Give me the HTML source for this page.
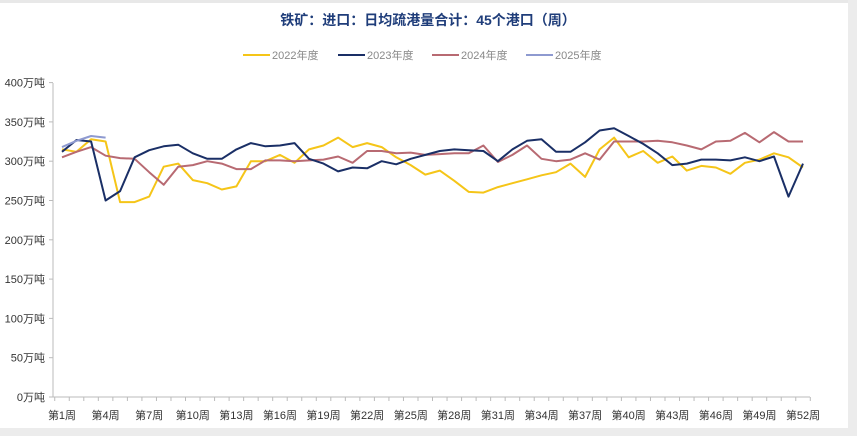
<!DOCTYPE html>
<html><head><meta charset="utf-8"><style>
body{margin:0;background:#fff;width:857px;height:436px;overflow:hidden;font-family:"Liberation Sans","Noto Sans CJK SC",sans-serif}
</style></head><body>
<svg id="s" width="857" height="436" xmlns="http://www.w3.org/2000/svg" font-family="Liberation Sans, Noto Sans CJK SC, sans-serif">
<rect x="0" y="0" width="857" height="3" fill="#e8e8e8"/>
<rect x="0" y="428" width="857" height="8" fill="#ececec"/>
<rect x="848" y="0" width="9" height="436" fill="#ececec"/>
<text x="428" y="25" text-anchor="middle" font-size="14" font-weight="bold" fill="#1f3d7a">铁矿：进口：日均疏港量合计：45个港口（周）</text>
<g font-size="11" fill="#888">
<line x1="243" y1="55" x2="270" y2="55" stroke="#f5c518" stroke-width="2"/><text x="272" y="59">2022年度</text>
<line x1="338" y1="55" x2="365" y2="55" stroke="#1a2f66" stroke-width="2"/><text x="367" y="59">2023年度</text>
<line x1="432" y1="55" x2="459" y2="55" stroke="#b86a72" stroke-width="2"/><text x="461" y="59">2024年度</text>
<line x1="526" y1="55" x2="553" y2="55" stroke="#8e9ad0" stroke-width="2"/><text x="555" y="59">2025年度</text>
</g>
<g id="ax"></g>
<g id="ln" fill="none" stroke-width="2" stroke-linejoin="round"></g>
</svg>
<script>
var y0=397,k=0.786,x0=62,dx=14.53;
function Y(v){return y0-v*k}
var ax=document.getElementById('ax'),h='';
h+='<line x1="53" y1="83" x2="53" y2="397" stroke="#bbb"/>';
h+='<line x1="53" y1="397" x2="810" y2="397" stroke="#bbb"/>';
for(var v=0;v<=400;v+=50){var y=Y(v);h+='<line x1="49" y1="'+y+'" x2="53" y2="'+y+'" stroke="#bbb"/><text x="45" y="'+(y+4)+'" text-anchor="end" font-size="11" fill="#333">'+v+'万吨</text>';}
for(var i=0;i<=52;i++){var x=x0-dx/2+i*dx;h+='<line x1="'+x+'" y1="397" x2="'+x+'" y2="401" stroke="#bbb"/>';}
for(var w=1;w<=52;w+=3){h+='<text x="'+(x0+(w-1)*dx)+'" y="419" text-anchor="middle" font-size="11" fill="#333">第'+w+'周</text>';}
ax.innerHTML=h;
var D={
'#f5c518':[315,312,328,325,248,248,255,293,297,276,272,264,268,300,300,308,298,315,320,330,318,323,318,305,295,283,288,275,261,260,267,272,277,282,286,297,280,315,330,305,313,298,306,288,294,292,284,298,302,310,305,292],
'#b86a72':[305,312,318,307,304,303,286,270,293,295,300,297,290,290,301,301,300,301,302,306,298,313,313,310,311,308,309,310,310,320,299,308,320,303,300,302,310,302,325,325,325,326,324,320,315,325,326,336,324,337,325,325],
'#1a2f66':[312,327,325,250,262,305,314,319,321,310,303,303,315,323,319,320,323,303,297,287,292,291,300,296,303,308,313,315,314,313,300,315,326,328,312,312,324,339,342,332,322,310,295,297,302,302,301,305,300,306,255,297],
'#8e9ad0':[318,326,332,330]};
var g='';
for(var c in D){var p=D[c].map(function(v,i){return (x0+i*dx).toFixed(1)+','+Y(v).toFixed(1)}).join(' ');g+='<polyline points="'+p+'" stroke="'+c+'"/>';}
document.getElementById('ln').innerHTML=g;
</script>
</body></html>
